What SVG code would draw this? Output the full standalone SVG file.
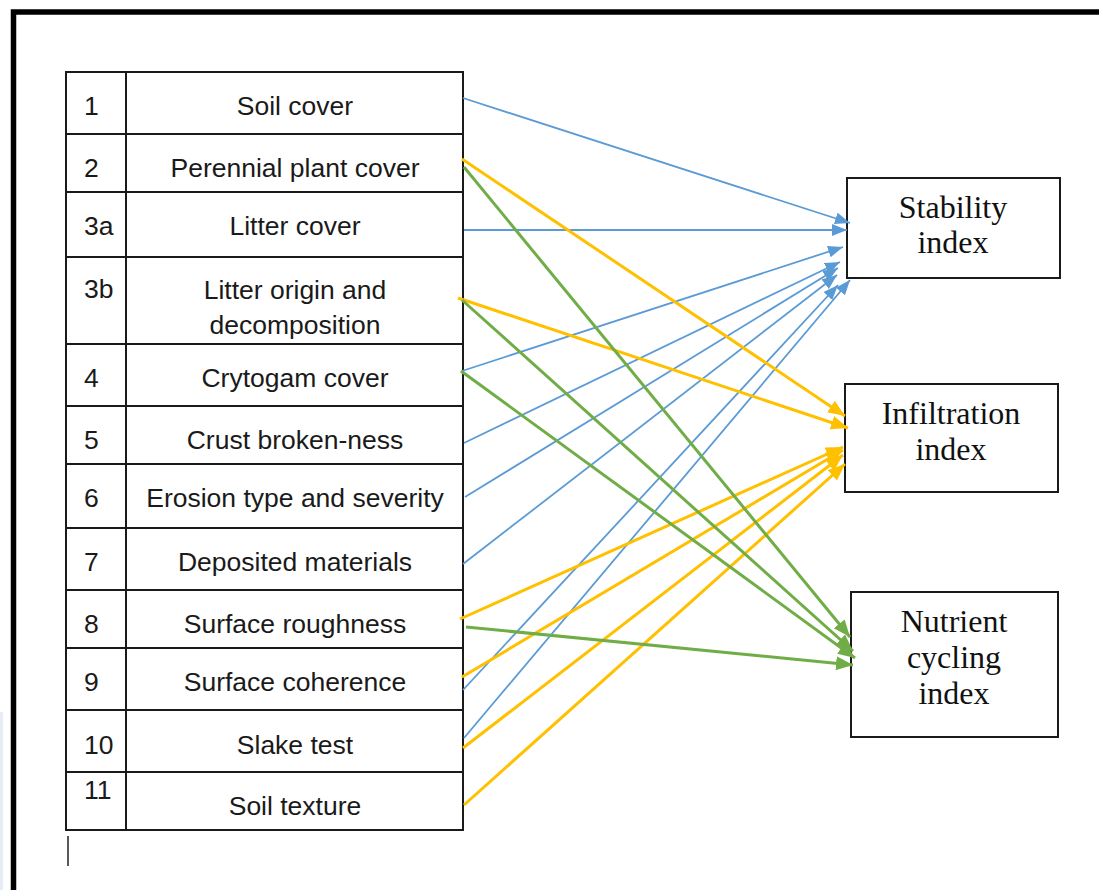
<svg xmlns="http://www.w3.org/2000/svg" width="1099" height="890" viewBox="0 0 1099 890">
<style>
.cell{fill:#fff;stroke:#1a1a1a;stroke-width:2}
.t{font-family:"Liberation Sans",Arial,sans-serif;font-size:26.5px;fill:#1a1a1a}
.c{text-anchor:middle}
.idx{fill:#fff;stroke:#1a1a1a;stroke-width:2}
.s{font-family:"Liberation Serif","Times New Roman",serif;font-size:32px;fill:#111;text-anchor:middle}
.b{stroke:#5B9BD5;stroke-width:1.8;fill:none;marker-end:url(#ab)}
.y{stroke:#FFC000;stroke-width:3;fill:none;marker-end:url(#ay)}
.g{stroke:#70AD47;stroke-width:3;fill:none;marker-end:url(#ag)}
</style>
<defs>
<marker id="ab" markerUnits="userSpaceOnUse" markerWidth="16" markerHeight="13" refX="15" refY="6" orient="auto"><path d="M0,0 L15,6 L0,12 z" fill="#5B9BD5"/></marker>
<marker id="ay" markerUnits="userSpaceOnUse" markerWidth="18" markerHeight="15" refX="17" refY="7" orient="auto"><path d="M0,0 L17,7 L0,14 z" fill="#FFC000"/></marker>
<marker id="ag" markerUnits="userSpaceOnUse" markerWidth="18" markerHeight="15" refX="17" refY="7" orient="auto"><path d="M0,0 L17,7 L0,14 z" fill="#70AD47"/></marker>
</defs>
<rect width="1099" height="890" fill="#fff"/>
<rect x="0" y="712" width="3" height="178" fill="#e6edf7"/>
<path d="M13.5,890 V12 H1099" fill="none" stroke="#000" stroke-width="5.5"/>
<line x1="68" y1="836" x2="68" y2="866" stroke="#222" stroke-width="1.5"/>

<g id="row1"><rect class="cell" x="66" y="72" width="60" height="62"/><rect class="cell" x="126" y="72" width="337" height="62"/><text class="t" x="84" y="115">1</text><text class="t c" x="295" y="115">Soil cover</text></g>
<g id="row2"><rect class="cell" x="66" y="134" width="60" height="58"/><rect class="cell" x="126" y="134" width="337" height="58"/><text class="t" x="84" y="177">2</text><text class="t c" x="295" y="177">Perennial plant cover</text></g>
<g id="row3a"><rect class="cell" x="66" y="192" width="60" height="65"/><rect class="cell" x="126" y="192" width="337" height="65"/><text class="t" x="84" y="235">3a</text><text class="t c" x="295" y="235">Litter cover</text></g>
<g id="row3b"><rect class="cell" x="66" y="257" width="60" height="87"/><rect class="cell" x="126" y="257" width="337" height="87"/><text class="t" x="84" y="298">3b</text><text class="t c" x="295" y="299">Litter origin and</text><text class="t c" x="295" y="334">decomposition</text></g>
<g id="row4"><rect class="cell" x="66" y="344" width="60" height="62"/><rect class="cell" x="126" y="344" width="337" height="62"/><text class="t" x="84" y="387">4</text><text class="t c" x="295" y="387">Crytogam cover</text></g>
<g id="row5"><rect class="cell" x="66" y="406" width="60" height="58"/><rect class="cell" x="126" y="406" width="337" height="58"/><text class="t" x="84" y="449">5</text><text class="t c" x="295" y="449">Crust broken-ness</text></g>
<g id="row6"><rect class="cell" x="66" y="464" width="60" height="64"/><rect class="cell" x="126" y="464" width="337" height="64"/><text class="t" x="84" y="507">6</text><text class="t c" x="295" y="507">Erosion type and severity</text></g>
<g id="row7"><rect class="cell" x="66" y="528" width="60" height="62"/><rect class="cell" x="126" y="528" width="337" height="62"/><text class="t" x="84" y="571">7</text><text class="t c" x="295" y="571">Deposited materials</text></g>
<g id="row8"><rect class="cell" x="66" y="590" width="60" height="58"/><rect class="cell" x="126" y="590" width="337" height="58"/><text class="t" x="84" y="633">8</text><text class="t c" x="295" y="633">Surface roughness</text></g>
<g id="row9"><rect class="cell" x="66" y="648" width="60" height="62"/><rect class="cell" x="126" y="648" width="337" height="62"/><text class="t" x="84" y="691">9</text><text class="t c" x="295" y="691">Surface coherence</text></g>
<g id="row10"><rect class="cell" x="66" y="710" width="60" height="62"/><rect class="cell" x="126" y="710" width="337" height="62"/><text class="t" x="84" y="754">10</text><text class="t c" x="295" y="754">Slake test</text></g>
<g id="row11"><rect class="cell" x="66" y="772" width="60" height="58"/><rect class="cell" x="126" y="772" width="337" height="58"/><text class="t" x="84" y="799">11</text><text class="t c" x="295" y="815">Soil texture</text></g>

<g id="stability"><rect class="idx" x="847" y="178" width="213" height="100"/><text class="s" x="953" y="218">Stability</text><text class="s" x="953" y="253">index</text></g>
<g id="infiltration"><rect class="idx" x="845" y="384" width="213" height="108"/><text class="s" x="951" y="424">Infiltration</text><text class="s" x="951" y="460">index</text></g>
<g id="nutrient"><rect class="idx" x="851" y="592" width="207" height="145"/><text class="s" x="954" y="632">Nutrient</text><text class="s" x="954" y="668">cycling</text><text class="s" x="954" y="704">index</text></g>

<g id="connectors">
<line class="b" x1="463" y1="98" x2="850" y2="223"/>
<line class="b" x1="464" y1="230" x2="847" y2="230"/>
<line class="b" x1="462" y1="371" x2="843" y2="247"/>
<line class="b" x1="464" y1="443" x2="840" y2="262"/>
<line class="b" x1="465" y1="497" x2="838" y2="268"/>
<line class="b" x1="463" y1="564" x2="837" y2="275"/>
<line class="b" x1="463" y1="690" x2="838" y2="285"/>
<line class="b" x1="464" y1="738" x2="850" y2="280"/>
<line class="y" x1="462" y1="159" x2="845" y2="416"/>
<line class="y" x1="458" y1="298" x2="848" y2="428"/>
<line class="y" x1="460" y1="619" x2="843" y2="447"/>
<line class="y" x1="462" y1="677" x2="843" y2="450"/>
<line class="y" x1="463" y1="748" x2="843" y2="455"/>
<line class="y" x1="464" y1="805" x2="845" y2="464"/>
<line class="g" x1="464" y1="167" x2="850" y2="637"/>
<line class="g" x1="462" y1="300" x2="853" y2="651"/>
<line class="g" x1="461" y1="371" x2="855" y2="658"/>
<line class="g" x1="466" y1="627" x2="853" y2="665"/>
</g>
</svg>
